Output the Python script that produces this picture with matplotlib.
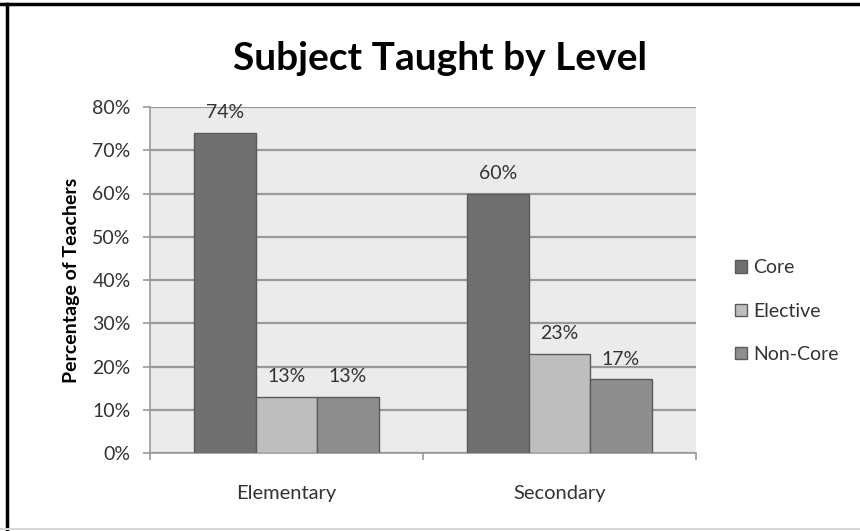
import matplotlib.pyplot as plt
import numpy as np
from matplotlib.lines import Line2D

levels = ['Elementary', 'Secondary']
subjects = ['Core', 'Elective', 'Non-Core']
core = [74, 60]
elective = [13, 23]
non_core = [13, 17]
colors = ['#707070', '#bebebe', '#8e8e8e']

plt.rcParams['font.family'] = ['Lato', 'DejaVu Sans']

fig = plt.figure(figsize=(8.6, 5.31), dpi=100)
ax = fig.add_axes([150 / 860, 1 - 453 / 531, 546 / 860, 346 / 531])

x = np.arange(len(levels))
w = 0.225
for i, (name, vals) in enumerate(zip(subjects, [core, elective, non_core])):
    pos = x + (i - 1) * w
    ax.bar(pos, vals, w, color=colors[i], edgecolor='#5a5a5a', linewidth=1,
           label=name, zorder=3)
    for xp, v in zip(pos, vals):
        ax.text(xp, v + 4.7, f'{v}%', ha='center', va='center',
                fontsize=14, color='#333333', zorder=4)

ax.set_xlim(-0.5, 1.5)
ax.set_ylim(0, 80)
ax.set_facecolor('#ebebeb')
ax.set_yticks(range(0, 81, 10))
ax.set_yticklabels([f'{v}%' for v in range(0, 81, 10)], fontsize=14, color='#333333')
ax.yaxis.grid(True, color='#999999', linewidth=1.6, zorder=0)
ax.set_axisbelow(True)

# category ticks sit between groups, labels centered under each group
ax.set_xticks([-0.5, 0.5, 1.5])
ax.set_xticklabels([])
ax.set_xticks(x, minor=True)
ax.set_xticklabels(levels, minor=True, fontsize=14.5, color='#333333')
ax.tick_params(axis='x', which='minor', length=0, pad=23)
ax.tick_params(axis='x', which='major', length=5, color='#999999', width=1.2)
ax.tick_params(axis='y', length=5, color='#999999', width=1.2, pad=9)

for side in ['top', 'right']:
    ax.spines[side].set_visible(False)
ax.spines['left'].set_color('#999999')
ax.spines['bottom'].set_color('#999999')
ax.spines['left'].set_linewidth(1.2)
ax.spines['bottom'].set_linewidth(1.2)

ax.set_ylabel('Percentage of Teachers', fontsize=14, fontweight='bold', labelpad=9)
fig.text(440 / 860, 1 - 58 / 531, 'Subject Taught by Level', ha='center',
         va='center', fontsize=28, fontweight='bold')

ax.legend(loc='center left', bbox_to_anchor=(1.04, 0.41), frameon=False,
          fontsize=14, handlelength=0.6, handleheight=0.6, handletextpad=0.3,
          labelspacing=1.35, labelcolor='#333333')

# frame around the figure
fig.add_artist(Line2D([0, 1], [1 - 4 / 531, 1 - 4 / 531], color='black', linewidth=2.5))
fig.add_artist(Line2D([7 / 860, 7 / 860], [0, 1 - 4 / 531], color='black', linewidth=2.5))
fig.add_artist(Line2D([0, 1], [2 / 531, 2 / 531], color='#d8d8d8', linewidth=1.5))

fig.savefig('out.png', dpi=100)
